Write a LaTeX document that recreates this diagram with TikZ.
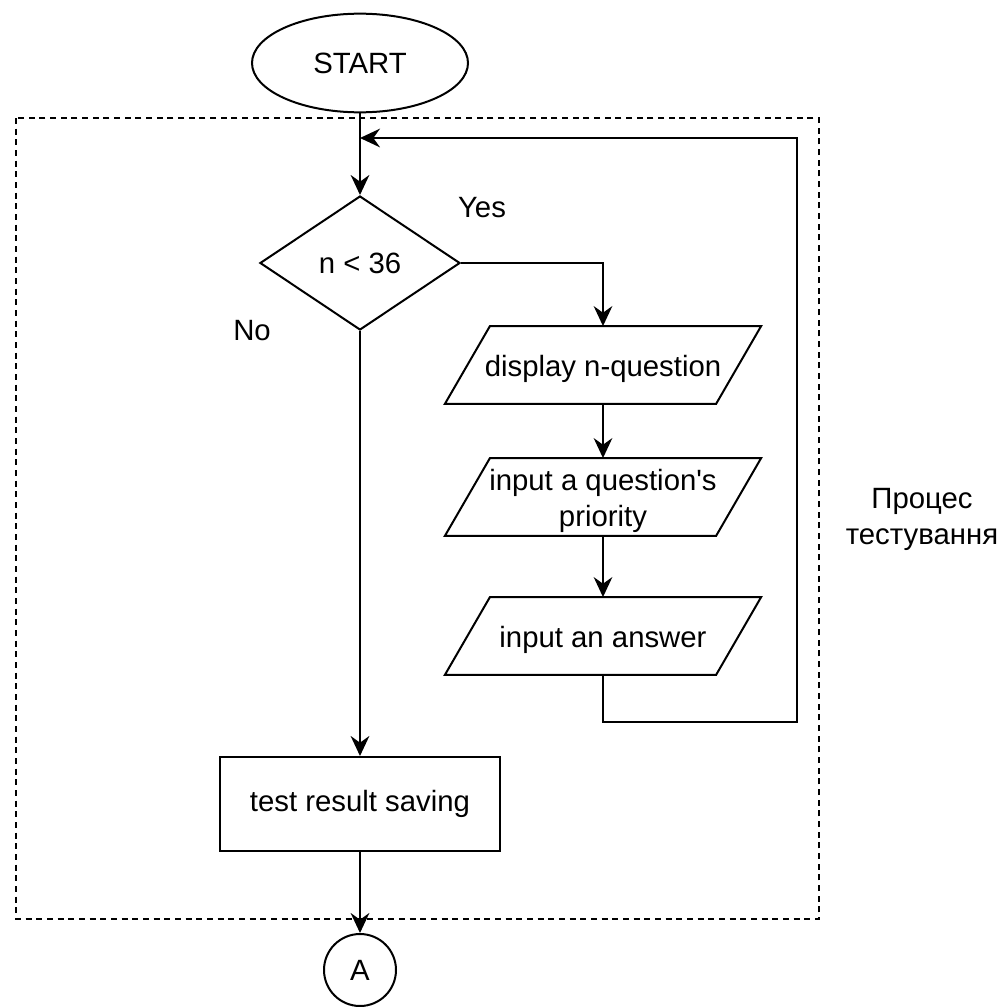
\documentclass[tikz,border=0pt]{standalone}
\usepackage{fontspec}
\setmainfont{Liberation Sans}
\usetikzlibrary{shapes.geometric,arrows.meta}
\newcommand{\lowertext}[1]{\raisebox{-3pt}[\height][\depth]{#1}}
\begin{document}
\begin{tikzpicture}[x=0.75pt,y=-0.75pt,
  every node/.style={font=\fontsize{22pt}{27pt}\selectfont, text=black},
  line/.style={draw=black, line width=1.5pt},
  flow/.style={line, -{Stealth[length=15pt,width=14pt,inset=5pt]}},
  terminal/.style={ellipse, line, minimum width=162pt, minimum height=74pt, inner sep=0pt},
  decision/.style={diamond, line, minimum width=150pt, minimum height=100.5pt, inner sep=0pt},
  iobox/.style={rectangle, minimum width=203pt, minimum height=58pt, inner sep=0pt, align=center},
  process/.style={rectangle, line, minimum width=210pt, minimum height=70.5pt},
  connector/.style={circle, line, minimum size=54pt, inner sep=0pt},
  plain/.style={inner sep=0pt, align=center}
]
\useasboundingbox (0,0) rectangle (1003,1007);

% group frame
\draw[line width=1.1pt, dash pattern=on 4.5pt off 3.5pt] (16,118) rectangle (819,919);

% nodes
\node[terminal] (start) at (360,63) {START};
\node[decision] (dec) at (360,263) {n < 36};
\node[iobox] (p1) at (603,365) {\lowertext{display n-question}};
\node[iobox] (p2) at (603,497) {\lowertext{\begin{tabular}{@{}c@{}}input a question\textquotesingle s\\priority\end{tabular}}};
\node[iobox] (p3) at (603,636) {\lowertext{input an answer}};
\node[process] (save) at (360,804) {test result saving};
\node[connector] (A) at (360,970) {A};

% slanted outlines of the input/output boxes
\foreach \n in {p1,p2,p3}
  \draw[line] ([xshift=16.9pt]\n.north west) -- ([xshift=16.9pt]\n.north east)
    -- ([xshift=-16.9pt]\n.south east) -- ([xshift=-16.9pt]\n.south west) -- cycle;

\node[plain] (yes) at (482,208) {Yes};
\node[plain] (no) at (252,331) {No};
\node[plain] (grp) at (922,519) {Процес\\тестування};

\coordinate (join) at (360,138);
\coordinate (loopL) at (603,722);
\coordinate (loopR) at (797,722);
\coordinate (loopT) at (797,138);

% connectors
\draw[flow] (start.south) -- (dec.north);
\draw[flow] (dec.east) -| (p1.north);
\draw[flow] (p1.south) -- (p2.north);
\draw[flow] (p2.south) -- (p3.north);
\draw[flow] (p3.south) -- (loopL) -- (loopR) -- (loopT) -- (join);
\draw[flow] (dec.south) -- (save.north);
\draw[flow] (save.south) -- (A.north);
\end{tikzpicture}
\end{document}
